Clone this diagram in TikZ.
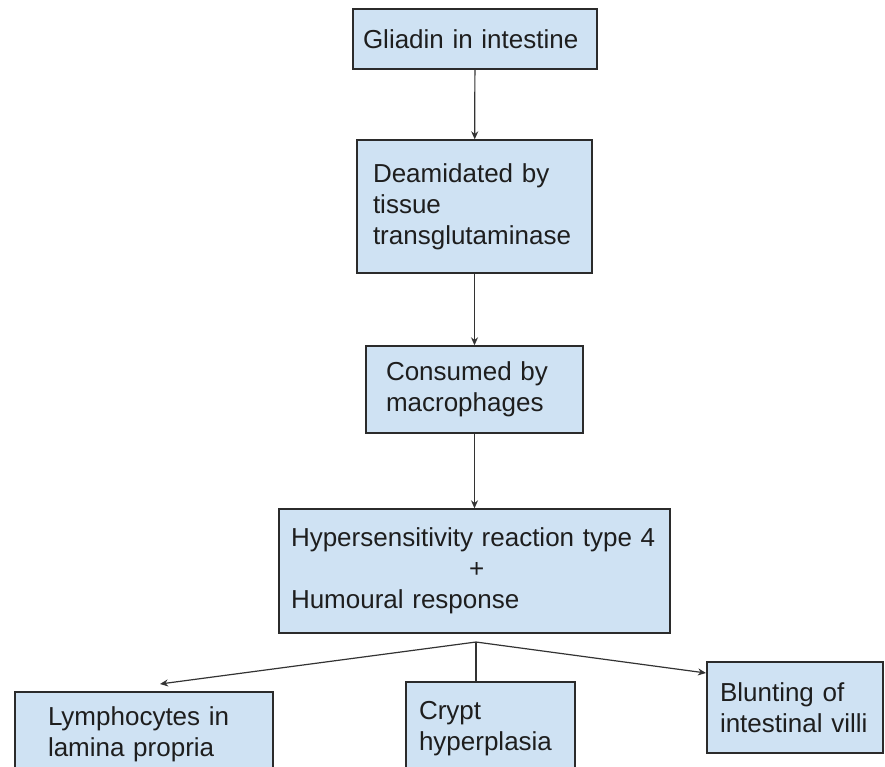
\documentclass[tikz,border=0pt]{standalone}
\usepackage{fontspec}
\setmainfont{Liberation Sans}
\usetikzlibrary{arrows.meta}
\definecolor{boxfill}{HTML}{CFE2F3}
\definecolor{boxline}{HTML}{2B2B2B}
\definecolor{txt}{HTML}{1E1E1E}
\definecolor{arrline}{HTML}{333333}
\tikzset{
  flowbox/.style={draw=boxline, fill=boxfill, line width=1.4pt, rectangle,
    align=left, text=txt, inner ysep=0pt,
    font=\fontsize{26}{31}\selectfont},
  arr/.style={draw=arrline, line width=1.2pt, -{Stealth[length=8pt,width=7pt]}},
  plainline/.style={draw=arrline, line width=1.2pt}
}
\begin{document}
\begin{tikzpicture}[x=1pt,y=-1pt]
\useasboundingbox (0,0) rectangle (885,766);
\clip (0,0) rectangle (885,766);

\node[flowbox, inner xsep=10pt, text width=224pt, minimum height=60pt] (b1) at (475,39)
  {Gliadin~in~intestine};
\node[flowbox, inner xsep=16pt, text width=203pt, minimum height=133pt] (b2) at (474.5,206.5)
  {Deamidated~by\\tissue\\transglutaminase};
\node[flowbox, inner xsep=20pt, text width=177pt, minimum height=87pt] (b3) at (474.5,389.5)
  {Consumed~by\\macrophages};
\node[flowbox, inner xsep=12pt, text width=367pt, minimum height=124pt] (b4) at (474.5,571)
  {Hypersensitivity~reaction~type~4\\\hspace*{178pt}+\\Humoural~response};

\node[flowbox, inner xsep=33pt, text width=192pt, minimum height=84pt] (lym) at (144,734)
  {Lymphocytes~in\\lamina~propria};
\node[flowbox, inner xsep=13pt, text width=143pt, minimum height=94pt] (crypt) at (490.5,729)
  {Crypt\\hyperplasia};
\node[flowbox, inner xsep=13pt, text width=150pt, minimum height=91pt] (blunt) at (795,707.5)
  {Blunting~of\\intestinal~villi};

\coordinate (br) at (476,642);
\coordinate (lymtip) at (160,684);
\coordinate (blunttip) at (706,673);

\draw[arr] (b1) -- (b2);
\draw[arr] (b2) -- (b3);
\draw[arr] (b3) -- (b4);
\draw[arr] (br) -- (lymtip);
\draw[plainline] (br) -- (br |- crypt.north);
\draw[arr] (br) -- (blunttip);
\end{tikzpicture}
\end{document}
